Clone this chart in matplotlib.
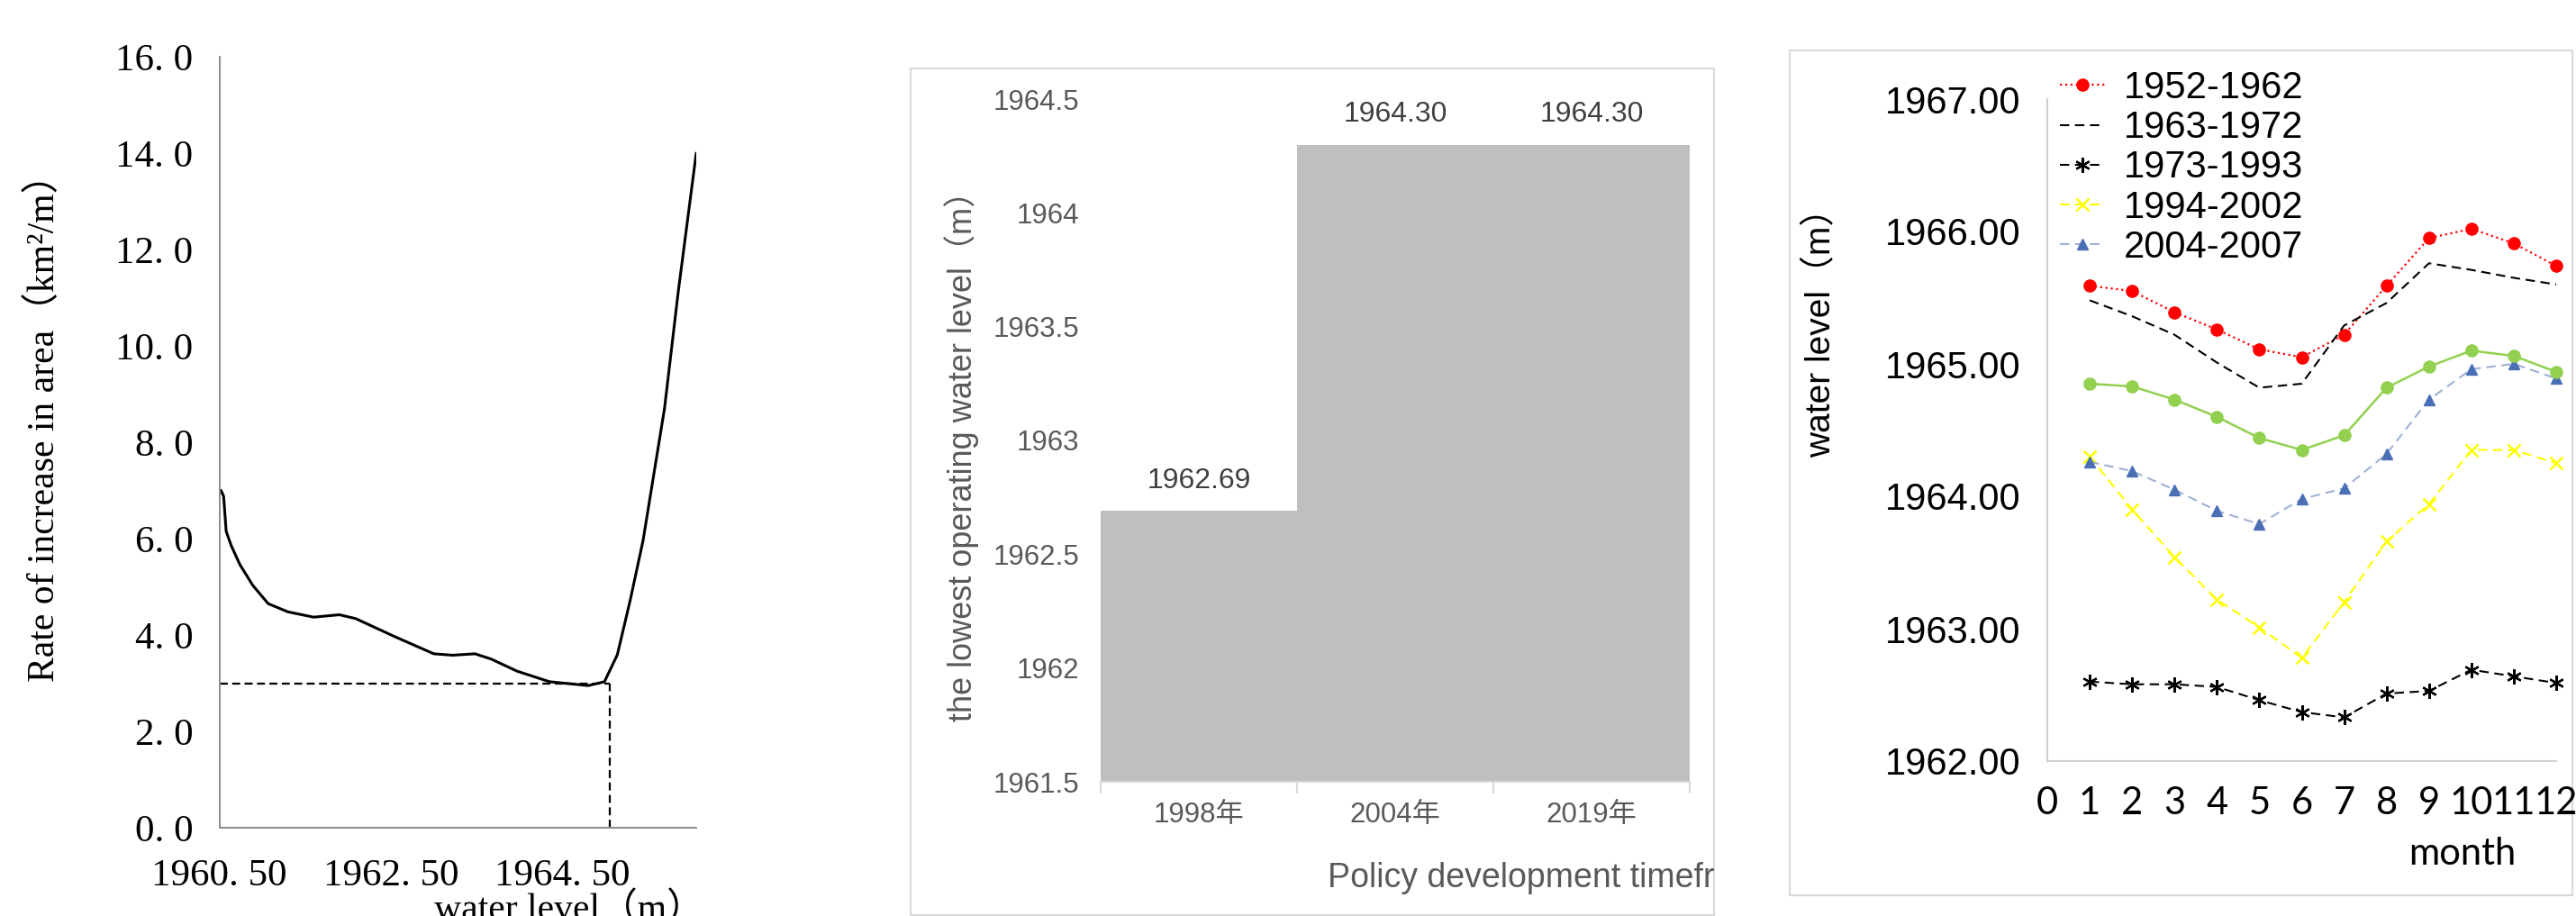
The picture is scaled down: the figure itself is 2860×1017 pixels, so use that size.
import matplotlib
matplotlib.use("Agg")
import matplotlib.pyplot as plt
from matplotlib.ticker import FixedLocator
from matplotlib.font_manager import FontProperties

# ---- data: left panel (area growth rate vs water level) ----
level = [1960.52, 1960.55, 1960.58, 1960.64, 1960.74, 1960.89, 1961.07, 1961.30,
         1961.60, 1961.90, 1962.09, 1962.54, 1963.00, 1963.22, 1963.48, 1963.67,
         1963.97, 1964.35, 1964.80, 1964.99, 1965.14, 1965.29, 1965.44, 1965.69,
         1965.85, 1966.06]
rate = [7.00, 6.88, 6.15, 5.85, 5.46, 5.03, 4.65, 4.48, 4.37, 4.42, 4.34, 3.97,
        3.61, 3.58, 3.61, 3.50, 3.25, 3.03, 2.95, 3.03, 3.59, 4.72, 5.96, 8.70,
        11.12, 14.00]
ref_level = 1965.05
ref_rate = 3.0
left_xticks = [1960.5, 1962.5, 1964.5]
left_yticks = [0, 2, 4, 6, 8, 10, 12, 14, 16]

# ---- data: middle panel (lowest operating water level) ----
policy_years = ["1998年", "2004年", "2019年"]
lowest_level = [1962.69, 1964.30, 1964.30]
mid_yticks = [1961.5, 1962, 1962.5, 1963, 1963.5, 1964, 1964.5]

# ---- data: right panel (monthly water level by period) ----
months = list(range(1, 13))
wl_1952_1962 = [1965.59, 1965.55, 1965.39, 1965.26, 1965.11, 1965.05,
                1965.22, 1965.59, 1965.95, 1966.02, 1965.91, 1965.74]
wl_1963_1972 = [1965.48, 1965.36, 1965.22, 1965.01, 1964.82, 1964.85,
                1965.29, 1965.46, 1965.76, 1965.71, 1965.65, 1965.60]
wl_1973_1993 = [1962.60, 1962.58, 1962.58, 1962.56, 1962.46, 1962.37,
                1962.33, 1962.51, 1962.53, 1962.69, 1962.64, 1962.59]
wl_1994_2002 = [1964.30, 1963.90, 1963.54, 1963.22, 1963.01, 1962.78,
                1963.20, 1963.66, 1963.94, 1964.35, 1964.35, 1964.25]
wl_2004_2007 = [1964.26, 1964.19, 1964.05, 1963.89, 1963.79, 1963.98,
                1964.06, 1964.32, 1964.73, 1964.96, 1965.00, 1964.89]
wl_green = [1964.85, 1964.83, 1964.73, 1964.60, 1964.44, 1964.35,
            1964.46, 1964.82, 1964.98, 1965.10, 1965.06, 1964.94]
right_yticks = [1962, 1963, 1964, 1965, 1966, 1967]

W, H = 2860, 1017
fig = plt.figure(figsize=(W / 100, H / 100), dpi=100)


def box(x0, y0, x1, y1):
    # pixel box (top-left origin) -> figure fractions
    return [x0 / W, 1 - y1 / H, (x1 - x0) / W, (y1 - y0) / H]


serif = ["Liberation Serif", "Noto Sans CJK SC"]
sans = ["Liberation Sans", "Noto Sans CJK SC"]

# ================= left panel =================
ax1 = fig.add_axes(box(243.5, 63, 773, 919))
ax1.plot(level, rate, color="black", lw=2.2, solid_capstyle="round")
ax1.plot([left_xticks[0], ref_level], [ref_rate, ref_rate], color="black",
         lw=1.6, ls=(0, (4, 2.2)))
ax1.plot([ref_level, ref_level], [0, ref_rate], color="black",
         lw=1.6, ls=(0, (4, 2.2)))
ax1.set_xlim(1960.5, 1966.06)
ax1.set_ylim(0, 16)
for s in ["top", "right"]:
    ax1.spines[s].set_visible(False)
for s in ["left", "bottom"]:
    ax1.spines[s].set_color("#8c8c8c")
    ax1.spines[s].set_linewidth(1.4)
ax1.set_xticks(left_xticks)
ax1.set_xticklabels([f"{v:.2f}".replace(".", ". ") for v in left_xticks])
ax1.set_yticks(left_yticks)
ax1.set_yticklabels([f"{v:.1f}".replace(".", ". ") for v in left_yticks])
ax1.tick_params(axis="both", length=0, labelsize=31)
ax1.tick_params(axis="y", pad=21)
ax1.tick_params(axis="x", pad=25)
for lab in ax1.get_xticklabels() + ax1.get_yticklabels():
    lab.set_family(serif)
fig.text(49 / W, 1 - 465 / H, "Rate of increase in area（km²/m）", rotation=90,
         ha="center", va="center", fontsize=30, family=serif)
fig.text(482 / W, -0.004, "water level（m）", ha="left", va="baseline",
         fontsize=30, family=serif)

# ================= middle panel =================
frame2 = fig.add_axes(box(1011, 76, 1903, 1016))
frame2.set_xticks([])
frame2.set_yticks([])
for s in frame2.spines.values():
    s.set_color("#d9d9d9")
    s.set_linewidth(1.5)
frame2.text((1474 - 1011) / 892, (1016 - 975) / 940, "Policy development timeframe",
            transform=frame2.transAxes, ha="left", va="center", fontsize=27,
            color="#595959", family=sans, clip_on=True)

ax2 = fig.add_axes(box(1222, 110, 1876, 868))
ax2.set_facecolor("none")
xpos = list(range(len(policy_years)))
bars = ax2.bar(xpos, lowest_level, width=1.0, color="#bfbfbf")
ax2.bar_label(bars, labels=[f"{v:.2f}" for v in lowest_level], padding=13,
              fontsize=23, color="#404040", family=sans)
ax2.set_xlim(-0.5, 2.5)
ax2.set_ylim(1961.5, 1964.5)
for s in ["top", "right", "left"]:
    ax2.spines[s].set_visible(False)
ax2.spines["bottom"].set_color("#d9d9d9")
ax2.spines["bottom"].set_linewidth(1.5)
ax2.set_yticks(mid_yticks)
ax2.set_yticklabels([f"{v:g}" for v in mid_yticks])
ax2.set_xticks(xpos)
ax2.set_xticklabels(policy_years)
ax2.xaxis.set_minor_locator(FixedLocator([-0.5, 0.5, 1.5, 2.5]))
ax2.tick_params(axis="x", which="major", length=0, pad=16)
ax2.tick_params(axis="x", which="minor", length=9, width=1.5, color="#d9d9d9")
ax2.tick_params(axis="y", length=0, pad=17)
ax2.tick_params(axis="both", which="major", labelsize=22.5, labelcolor="#595959")
for lab in ax2.get_xticklabels() + ax2.get_yticklabels():
    lab.set_family(sans)
fig.text(1068 / W, 1 - 497 / H, "the lowest operating water level（m）",
         rotation=90, ha="center", va="center", fontsize=26,
         color="#595959", family=sans)

# ================= right panel =================
frame3 = fig.add_axes(box(1987, 56, 2856, 994))
frame3.set_xticks([])
frame3.set_yticks([])
for s in frame3.spines.values():
    s.set_color("#d9d9d9")
    s.set_linewidth(1.5)

ax3 = fig.add_axes(box(2273, 110, 2838, 845))
ax3.set_facecolor("none")
ax3.plot(months, wl_1952_1962, color="#ff0000", ls=":", lw=1.6, marker="o",
         ms=9.5, label="1952-1962")
ax3.plot(months, wl_1963_1972, color="black", ls=(0, (5, 3)), lw=1.5,
         label="1963-1972")
ax3.plot(months, wl_1973_1993, color="black", ls=(0, (5, 3)), lw=1.5,
         marker=(6, 2, 0), ms=12, mew=1.6, label="1973-1993")
ax3.plot(months, wl_1994_2002, color="#ffff00", ls=(0, (5, 3)), lw=1.5,
         marker="x", ms=10, mew=1.8, label="1994-2002")
ax3.plot(months, wl_2004_2007, color="#9fb1d4", ls=(0, (5, 3)), lw=1.5,
         marker="^", ms=8, mfc="#4a6fb5", mec="#4a6fb5", label="2004-2007")
ax3.plot(months, wl_green, color="#92d050", ls="-", lw=1.8, marker="o", ms=9.5,
         label="_nolegend_")
ax3.set_xlim(0, 12)
ax3.set_ylim(1962, 1967)
for s in ["top", "right"]:
    ax3.spines[s].set_visible(False)
for s in ["left", "bottom"]:
    ax3.spines[s].set_color("#d0d0d0")
    ax3.spines[s].set_linewidth(1.5)
ax3.set_xticks(range(0, 13))
ax3.set_yticks(right_yticks)
ax3.set_yticklabels([f"{v:.2f}" for v in right_yticks])
ax3.tick_params(axis="both", length=0)
ax3.tick_params(axis="y", pad=21, labelsize=30)
ax3.tick_params(axis="x", pad=20, labelsize=30)
for lab in ax3.get_yticklabels():
    lab.set_family(sans)
for lab in ax3.get_xticklabels():
    lab.set_family("Lato")
for ln in ax3.get_lines():
    ln.set_clip_on(False)
fig.text(2734 / W, 1 - 948 / H, "month", ha="center", va="center",
         fontsize=30, family="Lato")
fig.text(2022 / W, 1 - 360 / H, "water level（m）", rotation=90,
         ha="center", va="center", fontsize=28, family=sans)
fig.legend(loc="upper left", bbox_to_anchor=(2287 / W, 1 - 78 / H),
           frameon=False, prop=FontProperties(family=sans, size=30),
           borderpad=0, borderaxespad=0, labelspacing=0.1,
           handlelength=1.2, handletextpad=0.5)

fig.savefig("out.png", dpi=100)
